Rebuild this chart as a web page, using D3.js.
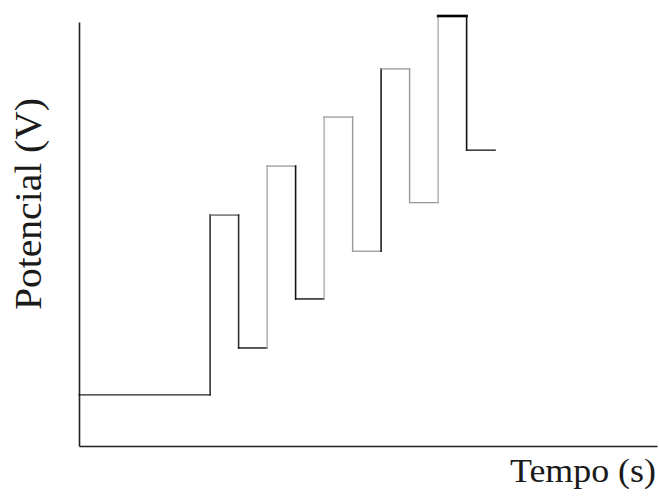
<!DOCTYPE html>
<html>
<head>
<meta charset="utf-8">
<script src="https://cdn.jsdelivr.net/npm/d3@7"></script>
<style>
  html, body { margin: 0; padding: 0; background: #fff; }
  svg { display: block; }
  .lbl { font-family: "Liberation Serif", "Times New Roman", Times, serif; fill: #1a1a1a; }
</style>
</head>
<body>
<div id="chart"></div>
<script>
// Staircase square-wave potential program (values in arbitrary units)
const stepTimes = [0, 4.6, 5.6, 6.6, 7.6, 8.6, 9.6, 10.6, 11.6, 12.6, 13.6, 14.6];
const potentials = [1.19, 5.37, 2.28, 6.51, 3.42, 7.65, 4.53, 8.77, 5.66, 10.0, 6.88];
const xLabel = "Tempo (s)";
const yLabel = "Potencial (V)";

// Segment stroke styles (drawing order along the waveform)
const segColors = ["#222", "#333", "#666", "#333", "#111", "#aaa", "#999", "#111", "#111",
                   "#aaa", "#999", "#999", "#999", "#222", "#999", "#999", "#999", "#aaa",
                   "#000", "#111", "#222"];
const segWidths = [1.4, 1.6, 1.4, 1.6, 1.4, 1.4, 1.3, 1.6, 1.4,
                   1.4, 1.3, 1.4, 1.3, 1.6, 1.3, 1.4, 1.3, 1.4,
                   2.6, 1.6, 1.4];

const W = 659, H = 497;
const margin = { left: 79, right: 2, top: 16, bottom: 51 };

const svg = d3.select("#chart").append("svg")
  .attr("width", W).attr("height", H);

const x = d3.scaleLinear().domain([0, 20.28]).range([margin.left, W - margin.right]);
const y = d3.scaleLinear().domain([0, 10]).range([H - margin.bottom, margin.top]);

// Build waveform points
const pts = [];
for (let i = 0; i < potentials.length; i++) {
  pts.push([stepTimes[i], potentials[i]]);
  pts.push([stepTimes[i + 1], potentials[i]]);
}
const segs = [];
for (let i = 0; i < pts.length - 1; i++) segs.push([pts[i], pts[i + 1]]);

svg.append("g").selectAll("line").data(segs).join("line")
  .attr("x1", d => x(d[0][0])).attr("y1", d => y(d[0][1]))
  .attr("x2", d => x(d[1][0])).attr("y2", d => y(d[1][1]))
  .attr("stroke", (d, i) => segColors[i] || "#222")
  .attr("stroke-width", (d, i) => segWidths[i] || 1.4)
  .attr("stroke-linecap", "square");

// Axes (no ticks)
const xAxis = d3.axisBottom(x).tickValues([]).tickSizeOuter(0);
const yAxis = d3.axisLeft(d3.scaleLinear().domain([0, 9.86]).range([y(0), y(9.86)]))
  .tickValues([]).tickSizeOuter(0);

svg.append("g").attr("transform", `translate(0,${y(0)})`).call(xAxis)
  .select(".domain").attr("stroke", "#222").attr("stroke-width", 1.6);
svg.append("g").attr("transform", `translate(${x(0)},0)`).call(yAxis)
  .select(".domain").attr("stroke", "#222").attr("stroke-width", 1.6);

// Labels
svg.append("text").attr("class", "lbl")
  .attr("x", 656).attr("y", 482)
  .attr("text-anchor", "end")
  .style("font-size", "34px")
  .attr("textLength", 146).attr("lengthAdjust", "spacingAndGlyphs")
  .text(xLabel);

svg.append("text").attr("class", "lbl")
  .attr("transform", "translate(41,204) rotate(-90)")
  .attr("text-anchor", "middle")
  .style("font-size", "38px")
  .attr("textLength", 212).attr("lengthAdjust", "spacingAndGlyphs")
  .text(yLabel);
</script>
</body>
</html>
